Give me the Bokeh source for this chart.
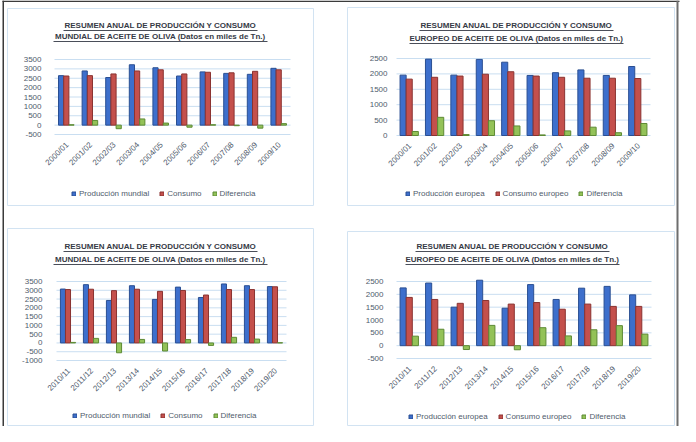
import math
import numpy as np
from bokeh.plotting import figure
from bokeh.models import Range1d, Legend, LegendItem, ColumnDataSource
from bokeh.core.properties import value
from bokeh.transform import dodge
from bokeh.embed import file_html
from bokeh.resources import INLINE

# ---------------- data ----------------
periods_a = ["2000/01", "2001/02", "2002/03", "2003/04", "2004/05",
             "2005/06", "2006/07", "2007/08", "2008/09", "2009/10"]
periods_b = ["2010/11", "2011/12", "2012/13", "2013/14", "2014/15",
             "2015/16", "2016/17", "2017/18", "2018/19", "2019/20"]

world_prod_a = [2640, 2890, 2540, 3220, 3060, 2620, 2840, 2760, 2710, 3030]
world_cons_a = [2620, 2640, 2730, 2890, 2950, 2730, 2820, 2790, 2870, 2950]
world_diff_a = [20, 250, -190, 330, 110, -110, 20, -30, -160, 80]

eu_prod_a = [1960, 2480, 1960, 2470, 2380, 1950, 2040, 2130, 1950, 2240]
eu_cons_a = [1830, 1890, 1930, 1990, 2070, 1930, 1890, 1860, 1860, 1850]
eu_diff_a = [130, 590, 30, 480, 310, 20, 150, 270, 90, 390]

world_prod_b = [3070, 3320, 2420, 3260, 2480, 3180, 2590, 3360, 3260, 3210]
world_cons_b = [3040, 3060, 2980, 3060, 2940, 2990, 2730, 3040, 3040, 3200]
world_diff_b = [30, 260, -560, 200, -460, 190, -140, 320, 220, 10]

eu_prod_b = [2250, 2440, 1500, 2550, 1460, 2380, 1800, 2240, 2310, 1980]
eu_cons_b = [1880, 1800, 1650, 1760, 1620, 1680, 1420, 1620, 1530, 1530]
eu_diff_b = [370, 640, -150, 790, -160, 700, 380, 620, 780, 450]

title_line1 = "RESUMEN ANUAL DE PRODUCCIÓN Y CONSUMO"
title_world = "MUNDIAL DE ACEITE DE OLIVA (Datos en miles de Tn.)"
title_eu = "EUROPEO DE ACEITE DE OLIVA (Datos en miles de Tn.)"

legend_world = ["Producción mundial", "Consumo", "Diferencia"]
legend_eu = ["Producción europea", "Consumo europeo", "Diferencia"]

ticks_world_a = [-500, 0, 500, 1000, 1500, 2000, 2500, 3000, 3500]
ticks_eu_a = [0, 500, 1000, 1500, 2000, 2500]
ticks_world_b = [-1000, -500, 0, 500, 1000, 1500, 2000, 2500, 3000, 3500]
ticks_eu_b = [-500, 0, 500, 1000, 1500, 2000, 2500]

# ---------------- style ----------------
BLUE, BLUE_D = "#3d6fcc", "#2a4f92"
RED, RED_D = "#c4504c", "#8a3331"
GREEN, GREEN_D = "#93c258", "#5d8a34"
GRID = "#c9def1"
BOXC = "#d2e3f2"
TXT = "#4f5b6c"
TITLEC = "#363a46"
FONT = "Liberation Sans"
W, H = 680, 426

p = figure(width=W, height=H, x_range=Range1d(0, W), y_range=Range1d(H, 0),
           min_border=0, toolbar_location=None, output_backend="svg")
p.axis.visible = False
p.grid.visible = False
p.outline_line_color = None
p.background_fill_color = "white"
p.border_fill_color = "white"

# outer frame of the page (decoration, canvas pixels)
p.quad(left=[2, 2, W - 4], right=[W - 1, 3.5, W - 2], top=[0, 0, 0], bottom=[1.5, H, H],
       fill_color=["#3b3b3b", "#3b3b3b", "#6e6e6e"], line_color=None)


def chart(i, line2, cats, prod, cons, diff, names, ticks, box, band, bw,
          lab_off, title_xy, legend_xy):
    n = len(cats)
    xl, xr, yt, yb = band
    ymin, ymax = ticks[0], ticks[-1]
    cw = (xr - xl) / n
    s = (ymax - ymin) / (yb - yt)
    xn, yn = f"x{i}", f"y{i}"
    p.extra_x_ranges[xn] = Range1d(-xl / cw, (W - xl) / cw)
    p.extra_y_ranges[yn] = Range1d(ymax - (H - yt) * s, ymax + yt * s)
    kw = dict(x_range_name=xn, y_range_name=yn)

    # chart area box
    bl, bt, br, bbm = box
    p.quad(left=[bl], right=[br], top=[bt], bottom=[bbm], fill_color=None,
           line_color=BOXC, line_width=1)

    # gridlines
    p.segment(x0=[0] * len(ticks), x1=[n] * len(ticks), y0=ticks, y1=ticks,
              line_color=GRID, line_width=1, **kw)

    xc = list(np.arange(n) + 0.5)
    src = ColumnDataSource(dict(xc=xc, cat=cats, prod=prod, cons=cons, diff=diff))
    r1 = p.vbar(x=dodge("xc", -bw), top="prod", bottom=0, width=bw, source=src,
                fill_color=BLUE, line_color=BLUE_D, **kw)
    r2 = p.vbar(x="xc", top="cons", bottom=0, width=bw, source=src,
                fill_color=RED, line_color=RED_D, **kw)
    r3 = p.vbar(x=dodge("xc", bw), top="diff", bottom=0, width=bw, source=src,
                fill_color=GREEN, line_color=GREEN_D, **kw)

    # y tick labels
    p.text(x=[0] * len(ticks), y=ticks, text=[str(t) for t in ticks],
           x_offset=lab_off, text_align="right", text_baseline="middle",
           text_font=value(FONT), text_font_size=value("8px"),
           text_color=TXT, **kw)
    # category labels, rotated
    p.text(x=xc, y=[ymin] * n, text=cats, angle=math.pi / 4, x_offset=1, y_offset=9,
           text_align="right", text_baseline="middle",
           text_font=value(FONT), text_font_size=value("8px"),
           text_color=TXT, **kw)

    # two-line underlined title (canvas pixels)
    tx, ty1, ty2 = title_xy
    widths = (194, 214)
    p.text(x=[tx, tx], y=[ty1, ty2], text=[title_line1, line2],
           text_align="center", text_baseline="middle",
           text_font=value(FONT), text_font_size=value("8px"),
           text_font_style="bold", text_color=TITLEC)
    p.segment(x0=[tx - widths[0] / 2, tx - widths[1] / 2],
              x1=[tx + widths[0] / 2, tx + widths[1] / 2],
              y0=[ty1 + 5, ty2 + 5], y1=[ty1 + 5, ty2 + 5],
              line_color=TITLEC, line_width=0.9)

    lx, lyc = legend_xy
    leg = Legend(items=[LegendItem(label=names[0], renderers=[r1]),
                        LegendItem(label=names[1], renderers=[r2]),
                        LegendItem(label=names[2], renderers=[r3])],
                 orientation="horizontal", location=(lx, H - lyc - 5),
                 label_text_font=FONT, label_text_font_size="8px",
                 label_text_color=TXT, glyph_width=5, glyph_height=5,
                 label_height=10, label_standoff=3, spacing=10,
                 padding=0, margin=0, border_line_color=None,
                 background_fill_alpha=0)
    p.add_layout(leg)


chart(1, title_world, periods_a, world_prod_a, world_cons_a, world_diff_a,
      legend_world, ticks_world_a, box=(7, 8, 313, 205), band=(54, 290, 59, 134),
      bw=0.22, lab_off=-13, title_xy=(160, 25, 36), legend_xy=(71, 193))
chart(2, title_eu, periods_a, eu_prod_a, eu_cons_a, eu_diff_a,
      legend_eu, ticks_eu_a, box=(347, 7, 674, 205), band=(396, 650, 58, 135),
      bw=0.24, lab_off=-9, title_xy=(516, 25, 38), legend_xy=(405, 193))
chart(3, title_world, periods_b, world_prod_b, world_cons_b, world_diff_b,
      legend_world, ticks_world_b, box=(7, 228, 313, 425), band=(56, 286, 281, 360),
      bw=0.22, lab_off=-14, title_xy=(160, 246, 259), legend_xy=(72, 415))
chart(4, title_eu, periods_b, eu_prod_b, eu_cons_b, eu_diff_b,
      legend_eu, ticks_eu_b, box=(347, 231, 674, 425), band=(396, 651, 281, 358),
      bw=0.24, lab_off=-13, title_xy=(512, 246, 259), legend_xy=(408, 416))

open("out.html", "w").write(file_html(p, INLINE))
